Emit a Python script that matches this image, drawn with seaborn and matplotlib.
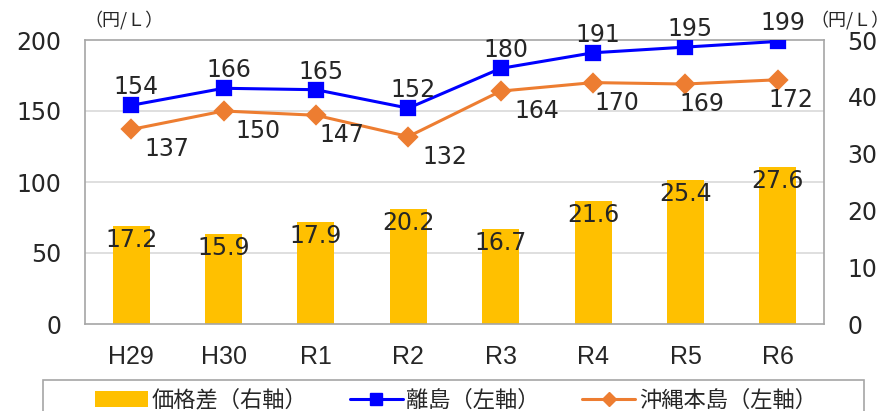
import matplotlib
matplotlib.use("Agg")
import matplotlib.pyplot as plt
import matplotlib.transforms as mtransforms
from matplotlib.lines import Line2D
from matplotlib.patches import Patch, Rectangle
import seaborn as sns

# =============================================================================
# Data
# =============================================================================

years = ["H29", "H30", "R1", "R2", "R3", "R4", "R5", "R6"]
ritou = [154, 166, 165, 152, 180, 191, 195, 199]          # 離島（左軸）
okinawa = [137, 150, 147, 132, 164, 170, 169, 172]        # 沖縄本島（左軸）
price_gap = [17.2, 15.9, 17.9, 20.2, 16.7, 21.6, 25.4, 27.6]  # 価格差（右軸）

left_ticks = [0, 50, 100, 150, 200]
right_ticks = [0, 10, 20, 30, 40, 50]

# label nudges (pixels) for the orange series
okinawa_dx = [36, 34, 26, 37, 36, 24, 16, 13]

BLUE = "#0000FF"
ORANGE = "#ED7D31"
GOLD = "#FFC000"
BG = "#F2F2F2"
GRID = "#D9D9D9"
SPINE = "#A6A6A6"
FS = 17

sns.set_style("white")
plt.rcParams["font.family"] = ["DejaVu Sans", "Noto Sans CJK JP"]
cjk = ["Noto Sans CJK JP", "DejaVu Sans"]

fig = plt.figure(figsize=(8.91, 4.11), dpi=100)
ax = fig.add_axes([85 / 891, 87 / 411, 739 / 891, 284 / 411])
ax2 = ax.twinx()

# lines in front, bars behind
ax.set_zorder(ax2.get_zorder() + 1)
ax.patch.set_visible(False)
ax2.set_facecolor(BG)

# --- lines (left axis)
sns.pointplot(x=years, y=ritou, ax=ax, color=BLUE, markers="s",
              linestyles="-", markersize=10, linewidth=2.2, errorbar=None)
sns.pointplot(x=years, y=okinawa, ax=ax, color=ORANGE, markers="D",
              linestyles="-", markersize=9, linewidth=2.2, errorbar=None)

# --- bars (right axis)
sns.barplot(x=years, y=price_gap, ax=ax2, color=GOLD, width=0.4,
            saturation=1, edgecolor="none")

ax.set_ylim(0, 200)
ax2.set_ylim(0, 50)
ax.set_xlim(-0.5, len(years) - 0.5)
ax.set_yticks(left_ticks)
ax2.set_yticks(right_ticks)

# grid of the left axis, drawn behind the bars
trans = mtransforms.blended_transform_factory(ax2.transAxes, ax.transData)
for v in left_ticks[1:-1]:
    ax2.plot([0, 1], [v, v], transform=trans, color=GRID, lw=1.2, zorder=0)

# data labels
for i, v in enumerate(ritou):
    ax.annotate(f"{v}", (i, v), xytext=(5, 18), textcoords="offset pixels",
                ha="center", va="center", fontsize=FS)
for i, v in enumerate(okinawa):
    ax.annotate(f"{v}", (i, v), xytext=(okinawa_dx[i], -20),
                textcoords="offset pixels", ha="center", va="center",
                fontsize=FS)
for i, v in enumerate(price_gap):
    ax2.annotate(f"{v:.1f}", (i, v), xytext=(0, -14),
                 textcoords="offset pixels", ha="center", va="center",
                 fontsize=FS)

# axes styling
for s in ax.spines.values():
    s.set_visible(False)
for s in ax2.spines.values():
    s.set_color(SPINE)
    s.set_linewidth(1.2)

ax.tick_params(axis="y", length=0, pad=17, labelsize=FS)
ax2.tick_params(axis="y", length=0, pad=17, labelsize=FS)
ax.tick_params(axis="x", length=0, pad=15)
ax2.tick_params(axis="x", length=0)
ax.set_xlabel("")
ax.set_ylabel("")
ax2.set_ylabel("")
ax2.set_xticks([])
ax.set_xticks(range(len(years)))
ax.set_xticklabels(years, family=["Liberation Sans Narrow", "Liberation Sans"],
                   fontsize=18)

# units
fig.text(84 / 891, 1 - 20 / 411, "（円/Ｌ）", family=cjk, fontsize=13,
         ha="left", va="center")
fig.text(890 / 891, 1 - 20 / 411, "（円/Ｌ）", family=cjk, fontsize=13,
         ha="right", va="center")

# legend frame + legend
fig.patches.append(Rectangle((43 / 891, -0.05), 821 / 891, 0.05 + 31 / 411,
                             transform=fig.transFigure, facecolor="white",
                             edgecolor=SPINE, lw=1.2, zorder=0))
handles = [
    Patch(facecolor=GOLD, edgecolor="none"),
    Line2D([], [], color=BLUE, marker="s", markersize=8, lw=2.2),
    Line2D([], [], color=ORANGE, marker="D", markersize=7, lw=2.2),
]
labels = ["価格差（右軸）", "離島（左軸）", "沖縄本島（左軸）"]
fig.legend(handles, labels, loc="center left", ncol=3,
           bbox_to_anchor=(95 / 891, 11 / 411),
           prop={"family": cjk, "size": 16}, frameon=False,
           handlelength=2.4, handletextpad=0.15, columnspacing=1.9,
           borderpad=0, borderaxespad=0)

fig.savefig("out.png", dpi=100)
